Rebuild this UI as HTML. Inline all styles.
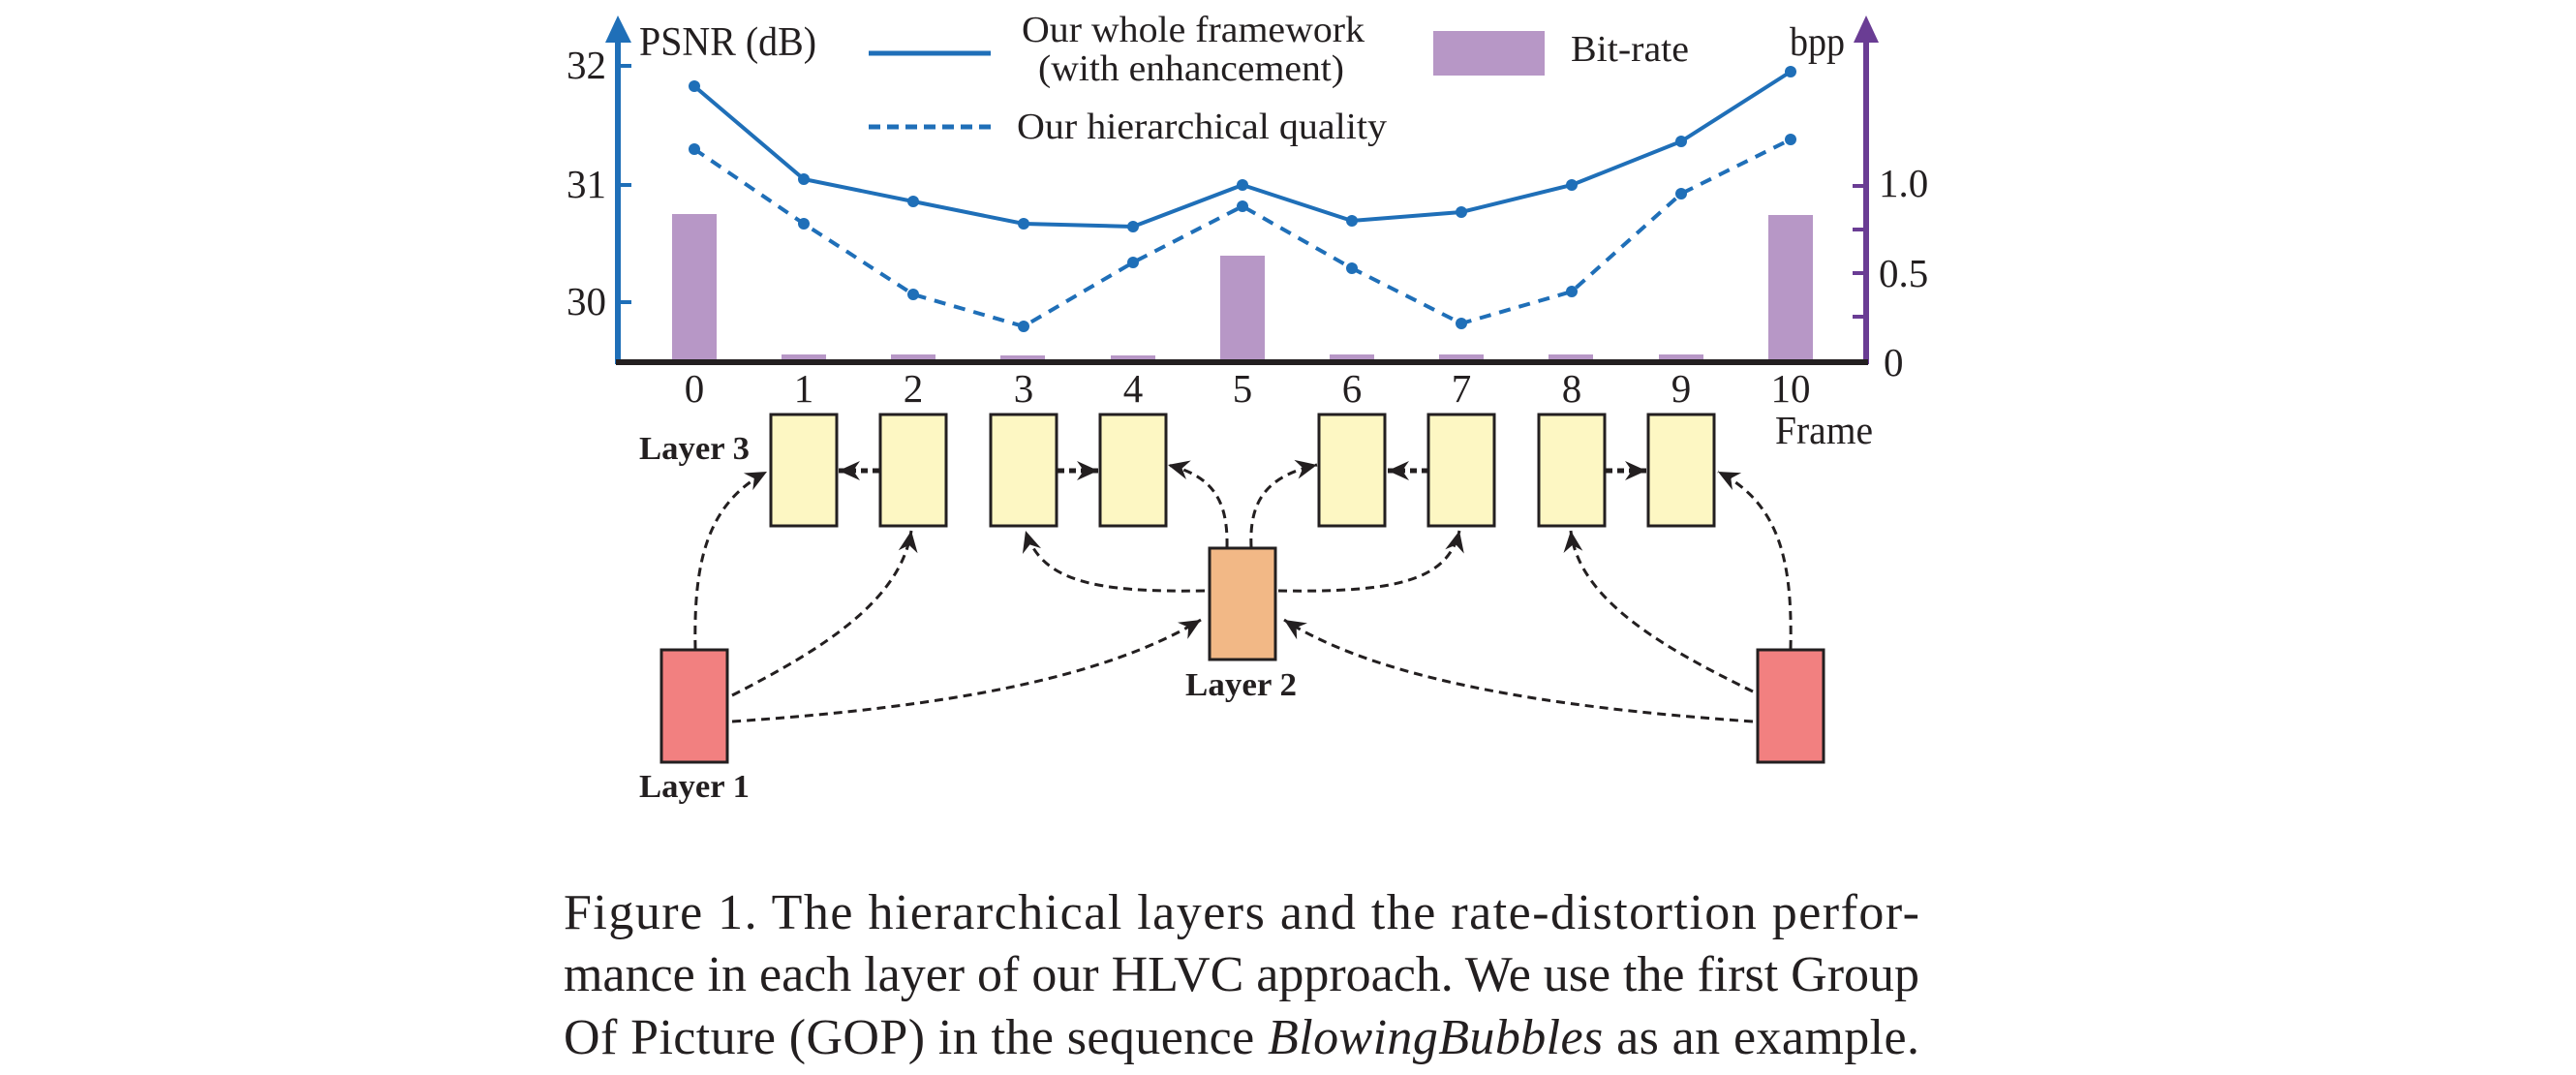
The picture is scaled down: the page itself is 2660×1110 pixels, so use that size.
<!DOCTYPE html>
<html><head><meta charset="utf-8"><style>
html,body{margin:0;padding:0;background:#fff;}
svg{display:block;}
text{font-family:"Liberation Serif",serif;fill:#231f20;}
</style></head><body>
<svg width="2660" height="1110" viewBox="0 0 2660 1110" xmlns="http://www.w3.org/2000/svg">
<defs>
<marker id="ah2" viewBox="-26 -13 28 26" refX="0" refY="0" markerWidth="28" markerHeight="26" markerUnits="userSpaceOnUse" orient="auto">
<path d="M0,0 L-22,-10 L-15,0 L-22,10 z" fill="#231f20"/>
</marker>
</defs>

<g fill="#b797c6">
<rect x="694" y="221" width="46" height="152"/>
<rect x="807" y="366" width="46" height="7"/>
<rect x="920" y="366" width="46" height="7"/>
<rect x="1033" y="367" width="46" height="6"/>
<rect x="1147" y="367" width="46" height="6"/>
<rect x="1260" y="264" width="46" height="109"/>
<rect x="1373" y="366" width="46" height="7"/>
<rect x="1486" y="366" width="46" height="7"/>
<rect x="1599" y="366" width="46" height="7"/>
<rect x="1713" y="366" width="46" height="7"/>
<rect x="1826" y="222" width="46" height="151"/>
<rect x="1480" y="32" width="115" height="46"/>
</g>

<line x1="638" y1="40" x2="638" y2="376" stroke="#1f6fb8" stroke-width="6"/>
<path d="M638,16 L625,44 L652,44 z" fill="#1f6fb8"/>
<g stroke="#1f6fb8" stroke-width="4"><line x1="638" y1="68" x2="652" y2="68"/><line x1="638" y1="191" x2="652" y2="191"/><line x1="638" y1="312" x2="652" y2="312"/></g>
<line x1="1927" y1="40" x2="1927" y2="376" stroke="#6a3d94" stroke-width="6"/>
<path d="M1927,16 L1914,44 L1940,44 z" fill="#6a3d94"/>
<g stroke="#6a3d94" stroke-width="4"><line x1="1913" y1="192" x2="1927" y2="192"/><line x1="1913" y1="237" x2="1927" y2="237"/><line x1="1913" y1="282" x2="1927" y2="282"/><line x1="1913" y1="327" x2="1927" y2="327"/></g>
<line x1="636" y1="374" x2="1929" y2="374" stroke="#231f20" stroke-width="6"/>

<polyline fill="none" stroke="#1f6fb8" stroke-width="4" points="717,89 830,185 943,208 1057,231 1170,234 1283,191 1396,228 1509,219 1623,191 1736,146 1849,74"/>
<polyline fill="none" stroke="#1f6fb8" stroke-width="4" stroke-dasharray="12,9" points="717,154 830,231 943,304 1057,337 1170,271 1283,213 1396,277 1509,334 1623,301 1736,200 1849,144"/>
<g fill="#1f6fb8">
<circle cx="717" cy="89" r="6"/><circle cx="830" cy="185" r="6"/><circle cx="943" cy="208" r="6"/><circle cx="1057" cy="231" r="6"/><circle cx="1170" cy="234" r="6"/><circle cx="1283" cy="191" r="6"/><circle cx="1396" cy="228" r="6"/><circle cx="1509" cy="219" r="6"/><circle cx="1623" cy="191" r="6"/><circle cx="1736" cy="146" r="6"/><circle cx="1849" cy="74" r="6"/>
<circle cx="717" cy="154" r="6"/><circle cx="830" cy="231" r="6"/><circle cx="943" cy="304" r="6"/><circle cx="1057" cy="337" r="6"/><circle cx="1170" cy="271" r="6"/><circle cx="1283" cy="213" r="6"/><circle cx="1396" cy="277" r="6"/><circle cx="1509" cy="334" r="6"/><circle cx="1623" cy="301" r="6"/><circle cx="1736" cy="200" r="6"/><circle cx="1849" cy="144" r="6"/>
</g>

<line x1="897" y1="55" x2="1023" y2="55" stroke="#1f6fb8" stroke-width="5"/>
<line x1="897" y1="131" x2="1023" y2="131" stroke="#1f6fb8" stroke-width="5" stroke-dasharray="12,7"/>
<g font-size="38">
<text x="1055" y="43" textLength="354" lengthAdjust="spacingAndGlyphs">Our whole framework</text>
<text x="1072" y="83" textLength="316" lengthAdjust="spacingAndGlyphs">(with enhancement)</text>
<text x="1050" y="143" textLength="382" lengthAdjust="spacingAndGlyphs">Our hierarchical quality</text>
<text x="1622" y="63" textLength="122" lengthAdjust="spacingAndGlyphs">Bit-rate</text>
<text x="1848" y="57" font-size="42" textLength="57" lengthAdjust="spacingAndGlyphs">bpp</text>
<text x="660" y="57" font-size="42" textLength="183" lengthAdjust="spacingAndGlyphs">PSNR (dB)</text>
<g font-size="41">
<text x="585" y="81">32</text>
<text x="585" y="204">31</text>
<text x="585" y="325">30</text>
<text x="1940" y="203">1.0</text>
<text x="1940" y="296">0.5</text>
<text x="1945" y="388">0</text>
</g>
<g text-anchor="middle" font-size="41">
<text x="717" y="415">0</text><text x="830" y="415">1</text><text x="943" y="415">2</text><text x="1057" y="415">3</text><text x="1170" y="415">4</text><text x="1283" y="415">5</text><text x="1396" y="415">6</text><text x="1509" y="415">7</text><text x="1623" y="415">8</text><text x="1736" y="415">9</text><text x="1849" y="415">10</text>
</g>
<text x="1833" y="458" font-size="41" textLength="101" lengthAdjust="spacingAndGlyphs">Frame</text>
</g>

<g stroke="#231f20" stroke-width="3" fill="#fdf7c3">
<rect x="796" y="428" width="68" height="115"/>
<rect x="909" y="428" width="68" height="115"/>
<rect x="1023" y="428" width="68" height="115"/>
<rect x="1136" y="428" width="68" height="115"/>
<rect x="1362" y="428" width="68" height="115"/>
<rect x="1475" y="428" width="68" height="115"/>
<rect x="1589" y="428" width="68" height="115"/>
<rect x="1702" y="428" width="68" height="115"/>
<rect x="1249" y="566" width="68" height="115" fill="#f2b886"/>
<rect x="683" y="671" width="68" height="116" fill="#f28080"/>
<rect x="1815" y="671" width="68" height="116" fill="#f28080"/>
</g>

<g fill="none" stroke="#231f20" stroke-width="3" stroke-dasharray="9,6" marker-end="url(#ah2)">
<path d="M718,670 C716,580 730,520 792,487"/>
<path d="M756,718 C850,670 930,620 941,548"/>
<path d="M756,745 C980,730 1140,700 1240,640"/>
<path d="M1849,670 C1851,580 1838,520 1774,487"/>
<path d="M1810,714 C1720,670 1630,620 1622,548"/>
<path d="M1810,745 C1590,730 1420,700 1326,640"/>
<path d="M1267,565 C1268,520 1255,492 1206,480"/>
<path d="M1292,565 C1290,520 1305,492 1360,480"/>
<path d="M1244,610 C1130,612 1075,600 1059,548"/>
<path d="M1320,610 C1440,612 1495,600 1507,548"/>
</g>
<g fill="none" stroke="#231f20" stroke-width="5" stroke-dasharray="7,5" marker-end="url(#ah2)">
<path d="M908,486 L866,486"/>
<path d="M1092,486 L1134,486"/>
<path d="M1475,486 L1433,486"/>
<path d="M1658,486 L1700,486"/>
</g>

<g font-size="34" font-weight="bold">
<text x="660" y="474" textLength="114" lengthAdjust="spacingAndGlyphs">Layer 3</text>
<text x="1224" y="718" textLength="115" lengthAdjust="spacingAndGlyphs">Layer 2</text>
<text x="660" y="823" textLength="114" lengthAdjust="spacingAndGlyphs">Layer 1</text>
</g>

<g font-size="52">
<text x="582" y="959" textLength="1400" lengthAdjust="spacing">Figure 1. The hierarchical layers and the rate-distortion perfor-</text>
<text x="582" y="1023" textLength="1400" lengthAdjust="spacing">mance in each layer of our HLVC approach. We use the first Group</text>
<text x="582" y="1088" textLength="1400" lengthAdjust="spacing">Of Picture (GOP) in the sequence <tspan font-style="italic">BlowingBubbles</tspan> as an example.</text>
</g>
</svg>
</body></html>
